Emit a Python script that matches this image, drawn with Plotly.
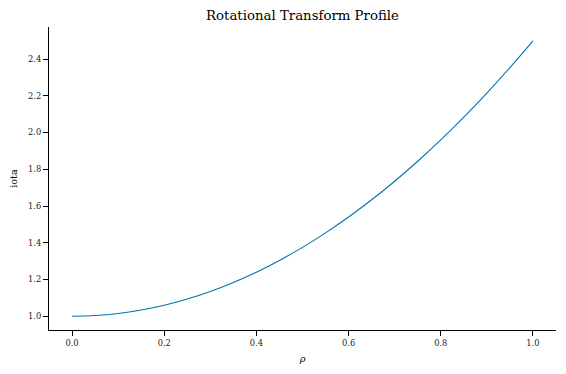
import plotly.graph_objects as go

rho = [0.0, 0.05, 0.1, 0.15, 0.2, 0.25, 0.3, 0.35, 0.4, 0.45, 0.5,
       0.55, 0.6, 0.65, 0.7, 0.75, 0.8, 0.85, 0.9, 0.95, 1.0]
iota = [1.0, 1.004, 1.015, 1.034, 1.06, 1.094, 1.135, 1.184, 1.24, 1.304, 1.375,
        1.454, 1.54, 1.634, 1.735, 1.844, 1.96, 2.084, 2.215, 2.354, 2.5]
x_ticks = [0.0, 0.2, 0.4, 0.6, 0.8, 1.0]
y_ticks = [1.0, 1.2, 1.4, 1.6, 1.8, 2.0, 2.2, 2.4]

FONT = "DejaVu Serif"

fig = go.Figure()
fig.add_trace(go.Scatter(x=rho, y=iota, mode="lines",
                         line=dict(color="#0173B2", width=1.1, shape="spline"),
                         showlegend=False))

axis_common = dict(showgrid=False, zeroline=False, showline=True, linecolor="black",
                   linewidth=1.1, ticks="outside", ticklen=5, tickwidth=1.1,
                   tickcolor="black", tickfont=dict(family=FONT, size=8.3, color="#222"),
                   tickformat=".1f", mirror=False)

fig.update_layout(
    width=566, height=374,
    margin=dict(l=49, r=10, t=27, b=44),
    paper_bgcolor="white", plot_bgcolor="white",
    title=dict(text="Rotational Transform Profile", x=0.5, xanchor="center", xref="paper",
               y=1 - 15.5 / 374, yanchor="middle", yref="container",
               font=dict(family=FONT, size=13.3, color="black")),
    xaxis=dict(range=[-0.05, 1.05], tickvals=x_ticks,
               title=dict(text="<i>ρ</i>", font=dict(family=FONT, size=9.7, color="black"), standoff=8),
               **axis_common),
    yaxis=dict(range=[0.925, 2.575], tickvals=y_ticks,
               title=dict(text="iota", font=dict(family=FONT, size=9.7, color="black"), standoff=8),
               **axis_common),
)

fig.write_html("out.html")
